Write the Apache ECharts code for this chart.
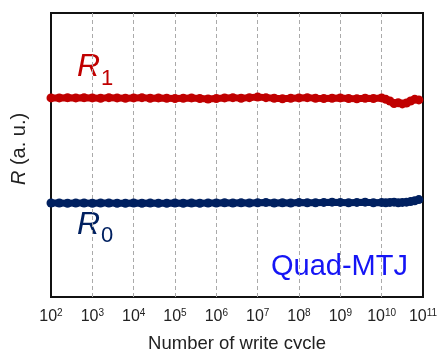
<!DOCTYPE html>
<html><head><meta charset="utf-8">
<script src="https://cdn.jsdelivr.net/npm/echarts@6/dist/echarts.min.js"></script>
<style>html,body{margin:0;padding:0;background:#fff}#c{width:442px;height:349px}</style>
</head><body><div id="c"></div>
<script>
// x positions as decade exponents (10^n write cycles)
var cycleExp = [2.0,2.2,2.4,2.6,2.8,3.0,3.2,3.4,3.6,3.8,4.0,4.2,4.4,4.6,4.8,5.0,5.2,5.4,5.6,5.8,6.0,6.2,6.4,6.6,6.8,7.0,7.2,7.4,7.6,7.8,8.0,8.2,8.4,8.6,8.8,9.0,9.2,9.4,9.6,9.8,10.0,10.1,10.2,10.3,10.4,10.5,10.6,10.7,10.8,10.9];
var r1 = [0.701,0.701,0.702,0.701,0.702,0.701,0.700,0.702,0.701,0.700,0.701,0.702,0.700,0.701,0.700,0.699,0.700,0.701,0.699,0.697,0.699,0.701,0.702,0.700,0.702,0.704,0.702,0.700,0.698,0.700,0.701,0.702,0.700,0.699,0.700,0.701,0.699,0.698,0.700,0.699,0.701,0.696,0.690,0.681,0.684,0.680,0.683,0.690,0.696,0.694];
var r0 = [0.331,0.331,0.330,0.331,0.331,0.330,0.331,0.331,0.330,0.330,0.331,0.330,0.331,0.330,0.330,0.331,0.330,0.331,0.330,0.331,0.331,0.332,0.331,0.332,0.331,0.332,0.333,0.331,0.332,0.331,0.333,0.332,0.332,0.333,0.334,0.333,0.332,0.333,0.334,0.332,0.333,0.332,0.333,0.334,0.332,0.333,0.334,0.336,0.339,0.343];
var tickExp = [2,3,4,5,6,7,8,9,10,11];
var xTitle = 'Number of write cycle';

function pairs(ys){ return cycleExp.map(function(x,i){ return [x, ys[i]]; }); }
var F = 'Liberation Sans, Arial, sans-serif';
var chart = echarts.init(document.getElementById('c'), null, {renderer:'canvas'});
chart.setOption({
  animation:false,
  grid:{left:51,right:19,top:13,bottom:52,show:true,borderColor:'#111',borderWidth:2,backgroundColor:'transparent',
        containLabel:false,outerBoundsMode:'none'},
  xAxis:{type:'value',min:2,max:11,interval:1,
    axisLine:{show:false},axisTick:{show:false},
    splitLine:{show:true,showMinLine:false,showMaxLine:false,lineStyle:{color:'#aaa',type:[4,3],width:1}},
    axisLabel:{margin:11,color:'#222',fontFamily:F,fontSize:16,
      formatter:function(v){ return tickExp.indexOf(v)>=0 ? '10{s|'+v+'}' : ''; },
      rich:{s:{fontSize:10,verticalAlign:'top',padding:[0,0,8,0],fontFamily:F,color:'#222'}}},
    name:xTitle,nameLocation:'middle',nameGap:37,
    nameTextStyle:{fontFamily:F,fontSize:18.5,color:'#222'}},
  yAxis:{type:'value',min:0,max:1,
    axisLine:{show:false},axisTick:{show:false},axisLabel:{show:false},splitLine:{show:false},
    name:'{i|R} (a. u.)',nameLocation:'middle',nameGap:22,
    nameTextStyle:{fontFamily:F,fontSize:20,color:'#222',padding:[0,0,0,12],
      rich:{i:{fontStyle:'italic',fontFamily:F,fontSize:20,color:'#222'}}}},
  series:[
    {type:'line',data:pairs(r1),symbol:'circle',symbolSize:9,showSymbol:true,
     lineStyle:{color:'#c00000',width:7},itemStyle:{color:'#c00000'},z:3},
    {type:'line',data:pairs(r0),symbol:'circle',symbolSize:9,showSymbol:true,
     lineStyle:{color:'#002060',width:7},itemStyle:{color:'#002060'},z:3}
  ],
  graphic:[
    {type:'text',left:77,top:51,style:{text:'R',fontStyle:'italic',fontSize:32,fill:'#c00000',fontFamily:F}},
    {type:'text',left:101,top:68,style:{text:'1',fontSize:22,fill:'#c00000',fontFamily:F}},
    {type:'text',left:77,top:209,style:{text:'R',fontStyle:'italic',fontSize:32,fill:'#002060',fontFamily:F}},
    {type:'text',left:101,top:225,style:{text:'0',fontSize:22,fill:'#002060',fontFamily:F}},
    {type:'text',left:271,top:252,style:{text:'Quad-MTJ',fontSize:29,fill:'#1515f5',fontFamily:F}}
  ]
});
</script></body></html>
